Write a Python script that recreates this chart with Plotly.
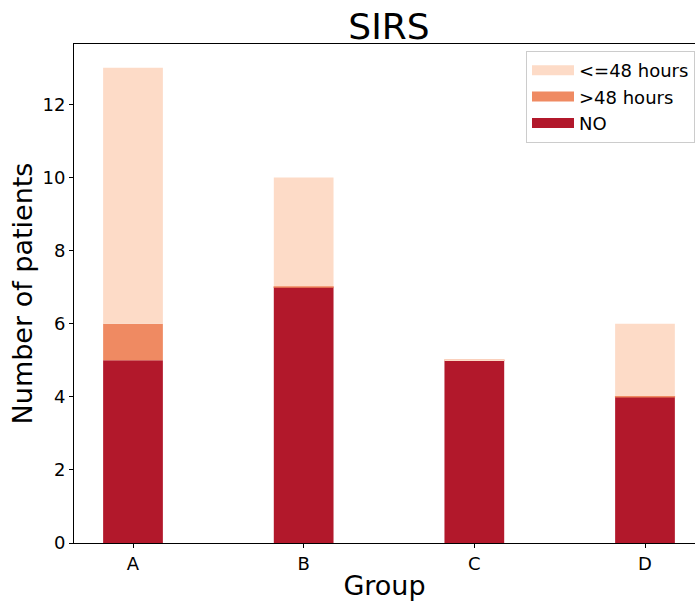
import plotly.graph_objects as go

groups = ["A", "B", "C", "D"]
no_vals = [5, 7, 5, 4]
gt48_vals = [1, 0, 0, 0]
le48_vals = [7, 3, 0, 2]

series = [
    ("NO", no_vals, "#b2182b"),
    (">48 hours", gt48_vals, "#ef8a62"),
    ("<=48 hours", le48_vals, "#fddbc7"),
]

FONT = "DejaVu Sans"
BAR_W = 0.35
fig = go.Figure()

base = [0] * len(groups)
edge_x, edge_y, edge_c = [], [], []
for name, vals, color in series:
    fig.add_trace(go.Bar(
        x=list(range(len(groups))), y=vals, name=name, legendgroup=name,
        marker=dict(color=color, line=dict(width=0)),
        width=BAR_W, base=base[:], showlegend=False,
    ))
    # wide legend swatch for the series
    fig.add_trace(go.Scatter(
        x=[None], y=[None], mode="lines", name=name, legendgroup=name,
        line=dict(color=color, width=14),
    ))
    # zero-height segments still show their edge as a thin line
    for i, v in enumerate(vals):
        if v == 0:
            edge_x.append(i)
            edge_y.append(base[i])
            edge_c.append(color)
    base = [b + v for b, v in zip(base, vals)]

fig.add_trace(go.Scatter(
    x=edge_x, y=edge_y, mode="markers", showlegend=False, hoverinfo="skip",
    marker=dict(symbol="line-ew", size=43, color=edge_c,
                line=dict(color=edge_c, width=1.5)),
))

fig.update_layout(
    width=696, height=601,
    margin=dict(l=74, r=1, t=44, b=56),
    paper_bgcolor="white", plot_bgcolor="white",
    barmode="overlay",
    font=dict(family=FONT, color="black"),
    title=dict(text="SIRS", x=389 / 696, xanchor="center",
               y=1 - 26 / 601, yanchor="middle",
               font=dict(size=36, family=FONT, color="black")),
    legend=dict(
        x=1.0, xanchor="right", y=0.986, yanchor="top",
        traceorder="reversed",
        bgcolor="rgba(255,255,255,0.8)", bordercolor="#cccccc", borderwidth=1,
        font=dict(size=18, family=FONT, color="black"),
        itemwidth=42, tracegroupgap=0,
    ),
    showlegend=True,
)

fig.update_xaxes(
    range=[-0.3457, 3.293],
    tickmode="array", tickvals=list(range(len(groups))), ticktext=groups,
    showline=True, linecolor="black", linewidth=1, mirror=True,
    ticks="outside", ticklen=4, tickcolor="black", tickwidth=1,
    showgrid=False, zeroline=False,
    tickfont=dict(size=18, family=FONT, color="black"),
    title=dict(text="Group", font=dict(size=27, family=FONT, color="black"), standoff=8),
)
fig.update_yaxes(
    range=[0, 13.65],
    tickmode="array", tickvals=[0, 2, 4, 6, 8, 10, 12],
    showline=True, linecolor="black", linewidth=1, mirror=False,
    ticks="outside", ticklen=4, tickcolor="black", tickwidth=1,
    showgrid=False, zeroline=False,
    tickfont=dict(size=18, family=FONT, color="black"),
    title=dict(text="Number of patients", font=dict(size=27, family=FONT, color="black"), standoff=2),
)

fig.write_html("out.html")
